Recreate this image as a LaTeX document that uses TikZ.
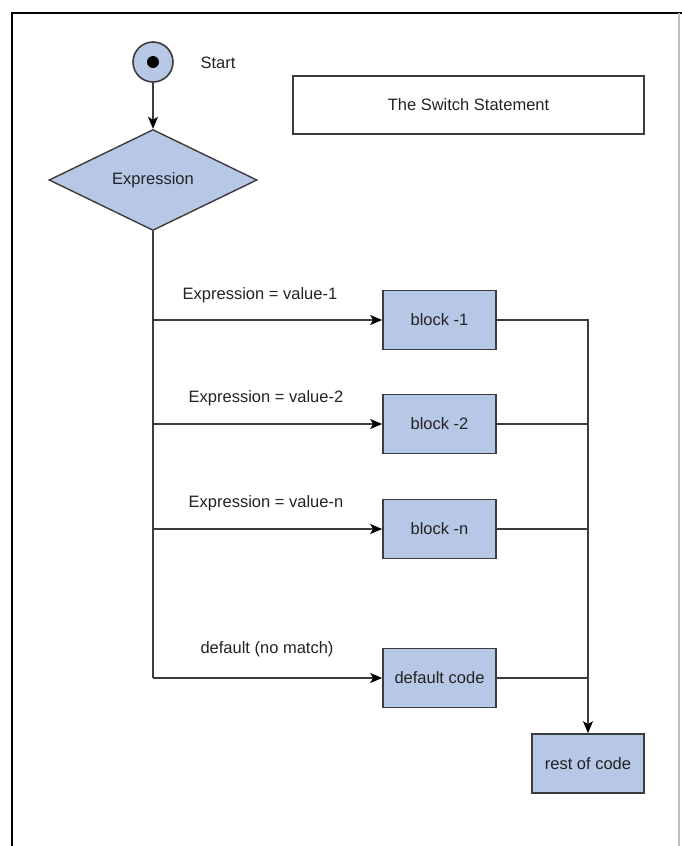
\documentclass[tikz,border=0pt]{standalone}
\usepackage{fontspec}
\setmainfont{Liberation Sans}
\usetikzlibrary{shapes.geometric,arrows.meta}
\definecolor{boxfill}{RGB}{182,200,230}
\definecolor{linecol}{RGB}{60,60,60}
\definecolor{txtcol}{RGB}{35,35,35}
\tikzset{
  every node/.style={font=\fontsize{16.5pt}{19pt}\selectfont, text=txtcol},
  blockbox/.style={draw=linecol, line width=1.7pt, fill=boxfill, minimum width=113pt, minimum height=59pt, inner sep=0pt},
  conn/.style={draw=linecol, line width=1.5pt},
  arr/.style={conn, -{Stealth[length=12pt, width=10pt, inset=3pt, fill=black, color=black]}},
  lbl/.style={inner sep=1pt}
}
\begin{document}
\begin{tikzpicture}[x=1pt, y=-1pt]
\useasboundingbox (0,0) rectangle (682,846);
% frame
\draw[black, line width=2.2pt] (12,846) -- (12,13) -- (682,13);
\draw[gray!50, line width=1.5pt] (679,13) -- (679,846);
% start
\node[circle, draw=linecol, line width=1.6pt, fill=boxfill, minimum size=40pt, inner sep=0pt] (start) at (153,62) {};
\fill[black] (start.center) circle (6pt);
\node (startlbl) at (218,63) {Start};
% title
\node[draw=linecol, line width=1.4pt, minimum width=351pt, minimum height=58pt, inner sep=0pt] (title) at (468.5,105) {The Switch Statement};
% decision
\node[diamond, draw=linecol, line width=1.4pt, fill=boxfill, minimum width=208pt, minimum height=101pt, inner sep=0pt] (expr) at (153,180) {Expression};
\draw[arr] (start.south) -- (expr.north);
% blocks
\node[blockbox] (b1) at (439.5,320) {block -1};
\node[blockbox] (b2) at (439.5,424) {block -2};
\node[blockbox] (bn) at (439.5,529) {block -n};
\node[blockbox] (bd) at (439.5,678) {default code};
\node[blockbox, minimum width=112pt] (rest) at (588,763.5) {rest of code};
% junctions on the trunk
\coordinate (j1) at (153,320);
\coordinate (j2) at (153,424);
\coordinate (jn) at (153,529);
\coordinate (jd) at (153,678);
\draw[conn] (expr.south) -- (jd);
\draw[arr] (j1) -- (b1.west);
\draw[arr] (j2) -- (b2.west);
\draw[arr] (jn) -- (bn.west);
\draw[arr] (jd) -- (bd.west);
% labels
\node[lbl] (l1) at (260,295) {Expression = value-1};
\node[lbl] (l2) at (266,398) {Expression = value-2};
\node[lbl] (ln) at (266,503) {Expression = value-n};
\node[lbl] (ld) at (267,649) {default (no match)};
% merge
\draw[arr] (b1.east) -| (rest.north);
\draw[conn] (b2.east) -- (b2.east -| rest.north);
\draw[conn] (bn.east) -- (bn.east -| rest.north);
\draw[conn] (bd.east) -- (bd.east -| rest.north);
\end{tikzpicture}
\end{document}
